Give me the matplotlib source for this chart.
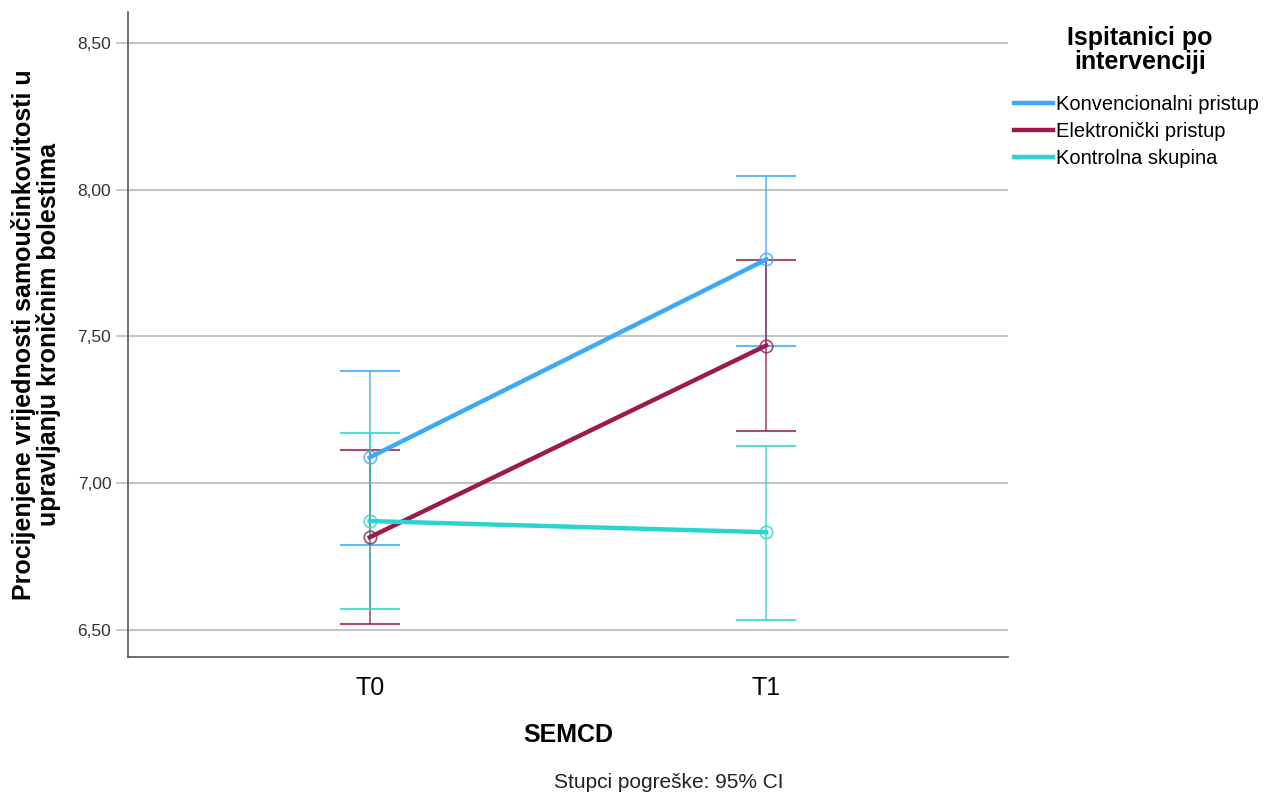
import matplotlib.pyplot as plt
import numpy as np

plt.rcParams['font.family'] = ['Liberation Sans', 'DejaVu Sans']

# data
times = ['T0', 'T1']
groups = ['Konvencionalni pristup', 'Elektronički pristup', 'Kontrolna skupina']
colors = ['#3ca9f7', '#9b1b4f', '#2dd4cf']

conv_mean = [7.088, 7.762]
conv_low = [6.789, 7.466]
conv_high = [7.381, 8.048]

elek_mean = [6.816, 7.469]
elek_low = [6.520, 7.177]
elek_high = [7.112, 7.759]

kontr_mean = [6.871, 6.833]
kontr_low = [6.571, 6.534]
kontr_high = [7.170, 7.126]

means = [conv_mean, elek_mean, kontr_mean]
lows = [conv_low, elek_low, kontr_low]
highs = [conv_high, elek_high, kontr_high]

fig = plt.figure(figsize=(12.68, 7.95), dpi=100)
ax = fig.add_axes([128/1268, 1-657/795, 880/1268, 645/795])

x = np.arange(len(times))
handles = []
for i in range(len(groups)):
    m = np.array(means[i])
    lo = m - np.array(lows[i])
    hi = np.array(highs[i]) - m
    ax.errorbar(x, m, yerr=[lo, hi], fmt='none', ecolor=colors[i],
                elinewidth=1.2, capsize=21.6, capthick=1.5, alpha=0.8, zorder=3+i)
    h, = ax.plot(x, m, color=colors[i], lw=3.2, zorder=6+i, label=groups[i])
    ax.plot(x, m, 'o', ms=9, mfc='none', mec=colors[i], mew=1.2, alpha=0.8, zorder=9+i)
    handles.append(h)

ax.set_xlim(-0.61, 1.61)
ax.set_ylim(6.408, 8.605)
ax.set_xticks(x)
ax.set_xticklabels(times, fontsize=18)
yt = [6.5, 7.0, 7.5, 8.0, 8.5]
ax.set_yticks(yt)
ax.set_yticklabels([('%.2f' % v).replace('.', ',') for v in yt], fontsize=12.5, color='#333333')
ax.yaxis.grid(True, color='#c4c4c4', lw=1.5)
ax.set_axisbelow(True)
ax.tick_params(axis='y', length=9, color='#c4c4c4', width=1.3, pad=3)
ax.tick_params(axis='x', length=0, pad=14)
for s in ['top', 'right']:
    ax.spines[s].set_visible(False)
for s in ['left', 'bottom']:
    ax.spines[s].set_color('#555555')
    ax.spines[s].set_linewidth(1.2)

ax.set_xlabel('SEMCD', fontsize=18, fontweight='bold', labelpad=16)
ax.set_ylabel('Procijenjene vrijednosti samoučinkovitosti u\nupravljanju kroničnim bolestima',
              fontsize=18, fontweight='bold', labelpad=12, linespacing=1.02)

# legend title drawn on its own so the gap can be set
fig.text(1140/1268, 1-50/795, 'Ispitanici po\nintervenciji', fontsize=18,
         fontweight='bold', ha='center', va='center', linespacing=1.05)
fig.legend(handles=handles, loc='upper left', bbox_to_anchor=(1014/1268, 1-95/795),
           frameon=False, fontsize=14.5, handlelength=1.95, handletextpad=0.12,
           labelspacing=0.4, borderaxespad=0, borderpad=0)

fig.text(669/1268, 1-783/795, 'Stupci pogreške: 95% CI', fontsize=15,
         ha='center', va='center', color='#222222')

fig.savefig('out.png', dpi=100)
